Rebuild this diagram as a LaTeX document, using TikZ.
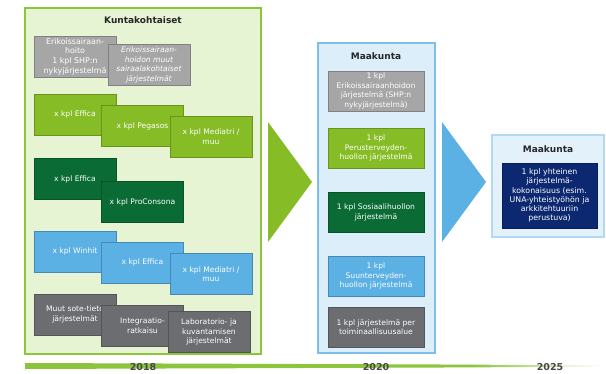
\documentclass[tikz,border=0pt]{standalone}
\usepackage{fontspec}
\setmainfont{DejaVu Sans}
\usetikzlibrary{calc}

\definecolor{panelgreen}{HTML}{E6F4D4}
\definecolor{linegreen}{HTML}{8CC43C}
\definecolor{panelblue}{HTML}{DCEEFA}
\definecolor{lineblue}{HTML}{7CC0EA}
\definecolor{boxgray}{HTML}{A6A6A6}
\definecolor{boxgreen}{HTML}{86BC25}
\definecolor{boxdkgreen}{HTML}{0B6B35}
\definecolor{boxblue}{HTML}{5BB0E4}
\definecolor{boxdkgray}{HTML}{6B6D70}
\definecolor{boxnavy}{HTML}{0C2870}

\tikzset{
  sysbox/.style={draw=#1!78!black, fill=#1, line width=0.9pt, text=white, align=center,
    font=\fontsize{7.6}{9.6}\selectfont, inner sep=0pt, minimum width=82pt, minimum height=41pt},
  widebox/.style={sysbox=#1, minimum width=96pt, minimum height=40pt},
  panel/.style 2 args={draw=#1, fill=#2, line width=1.2pt},
  heading/.style={font=\fontsize{9}{10}\selectfont\bfseries, text=black!85},
  year/.style={font=\fontsize{9.5}{10}\selectfont\bfseries, text=black!72},
}

\begin{document}
\begin{tikzpicture}[x=1pt,y=-1pt]
  \useasboundingbox (0,0) rectangle (606,373);

  % 2018: kuntakohtaiset
  \draw[panel={linegreen}{panelgreen}] (25,8) rectangle (261,354);
  \node[heading] (ktitle) at (143,20) {Kuntakohtaiset};

  \node[sysbox=boxgray, font=\fontsize{7.9}{9.6}\selectfont] (a1) at (75,56.5)
    {Erikoissairaan-\\hoito\\1 kpl SHP:n\\nykyjärjestelmä};
  \node[sysbox=boxgray, font=\fontsize{7.6}{9.6}\selectfont\itshape] (a2) at (149,65)
    {Erikoissairaan-\\hoidon muut\\sairaalakohtaiset\\järjestelmät};

  \node[sysbox=boxgreen] (b1) at (75,114.5) {x kpl Effica};
  \node[sysbox=boxgreen] (b2) at (142.5,126) {x kpl Pegasos};
  \node[sysbox=boxgreen] (b3) at (211,136.5) {x kpl Mediatri /\\muu};

  \node[sysbox=boxdkgreen] (c1) at (75,179) {x kpl Effica};
  \node[sysbox=boxdkgreen] (c2) at (142.5,202) {x kpl ProConsona};

  \node[sysbox=boxblue] (d1) at (75,251.5) {x kpl Winhit};
  \node[sysbox=boxblue] (d2) at (142.5,262.5) {x kpl Effica};
  \node[sysbox=boxblue] (d3) at (211,274) {x kpl Mediatri /\\muu};

  \node[sysbox=boxdkgray] (e1) at (75,314.5) {Muut sote-tieto\\järjestelmät};
  \node[sysbox=boxdkgray] (e2) at (142.5,325.5) {Integraatio-\\ratkaisu};
  \node[sysbox=boxdkgray] (e3) at (209,332) {Laboratorio- ja\\kuvantamisen\\järjestelmät};

  \fill[boxgreen] (268,122) -- (312,182) -- (268,242) -- cycle;

  % 2020: maakunta
  \draw[panel={lineblue}{panelblue}] (318,43) rectangle (435,353);
  \node[heading] (mtitle) at (376,56) {Maakunta};

  \node[widebox=boxgray] (m1) at (376,91) {1 kpl\\Erikoissairaanhoidon\\järjestelmä (SHP:n\\nykyjärjestelmä)};
  \node[widebox=boxgreen] (m2) at (376,148) {1 kpl\\Perusterveyden-\\huollon järjestelmä};
  \node[widebox=boxdkgreen] (m3) at (376,212.5) {1 kpl Sosiaalihuollon\\järjestelmä};
  \node[widebox=boxblue] (m4) at (376,276) {1 kpl\\Suunterveyden-\\huollon järjestelmä};
  \node[widebox=boxdkgray] (m5) at (376,327) {1 kpl järjestelmä per\\toiminaallisuusalue};

  \fill[boxblue] (442,122) -- (486,182) -- (442,242) -- cycle;

  % 2025: yhteinen kokonaisuus
  \draw[panel={lineblue!60}{panelblue!80}] (492,135) rectangle (604,237);
  \node[heading] (rtitle) at (548,149) {Maakunta};
  \node[sysbox=boxnavy, font=\fontsize{7.8}{9.2}\selectfont, minimum width=95pt, minimum height=65pt] (r1) at (549.5,195.5)
    {1 kpl yhteinen\\järjestelmä-\\kokonaisuus (esim.\\UNA-yhteistyöhön ja\\arkkitehtuuriin\\perustuva)};

  % aikajana
  \fill[linegreen] (25,363) -- (470,364.6) -- (470,367.4) -- (25,369) -- cycle;
  \shade[left color=linegreen, right color=white] (470,364.6) -- (606,365.6) -- (606,366.4) -- (470,367.4) -- cycle;
  \node[year] (y18) at (143,367) {2018};
  \node[year] (y20) at (376,367) {2020};
  \node[year] (y25) at (550,367) {2025};
\end{tikzpicture}
\end{document}
